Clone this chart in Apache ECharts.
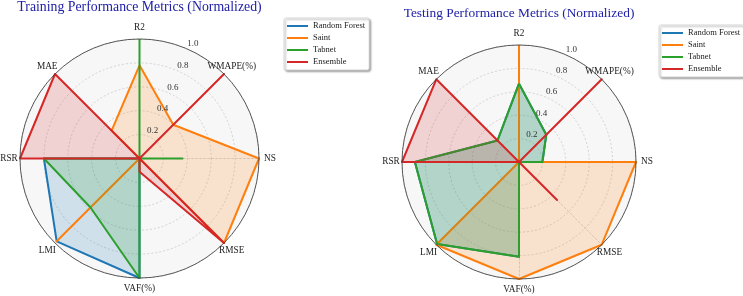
<!DOCTYPE html>
<html>
<head>
<meta charset="utf-8">
<script src="https://cdn.jsdelivr.net/npm/echarts@6/dist/echarts.min.js"></script>
<style>
  html, body { margin: 0; padding: 0; background: #fff; }
  #main { width: 743px; height: 296px; }
</style>
</head>
<body>
<div id="main"></div>
<script>
// metrics in clockwise order starting at the top
var metrics = ['R2', 'WMAPE(%)', 'NS', 'RMSE', 'VAF(%)', 'LMI', 'RSR', 'MAE'];
var models = ['Random Forest', 'Saint', 'Tabnet', 'Ensemble'];
var colors = ['#1f77b4', '#ff7f0e', '#2ca02c', '#d62728'];
var fills = ['rgba(31,119,180,0.25)', 'rgba(255,127,14,0.25)', 'rgba(44,160,44,0.25)', 'rgba(214,39,40,0.25)'];
var rTicks = [0.2, 0.4, 0.6, 0.8, 1.0];

// training (normalized)
var trainRF = [0, 0, 0, 0, 1.0, 0.98, 0.80, 0];
var trainSaint = [0.78, 0.40, 1.0, 1.0, 0, 0.98, 0, 0.33];
var trainTabnet = [1.0, 0, 0.36, 0, 1.0, 0.58, 0.80, 0];
var trainEnsemble = [0, 1.0, 0, 1.0, 0.11, 0, 1.0, 1.0];

// testing (normalized)
var testRF = [0.67, 0.33, 0.2, 0, 0.81, 0.99, 0.89, 0.26];
var testSaint = [1.0, 0, 1.0, 1.0, 1.0, 1.0, 0, 0];
var testTabnet = [0.67, 0.33, 0.2, 0, 0.81, 0.99, 0.89, 0.26];
var testEnsemble = [0, 1.0, 0, 0.46, 0, 0, 1.0, 1.0];

// echarts radar runs counter-clockwise, so reorder
var ccw = [0, 7, 6, 5, 4, 3, 2, 1];
function reorder(arr) {
    return ccw.map(function(i) { return arr[i]; });
}

var serif = '"Liberation Serif", "DejaVu Serif", serif';
var charts = [
    { title: 'Training Performance Metrics (Normalized)', center: [139.5, 158.5], r: 119.5, titleTop: 0, titleSize: 13.8, legendLeft: 284, legendTop: 18, data: [trainRF, trainSaint, trainTabnet, trainEnsemble] },
    { title: 'Testing Performance Metrics (Normalized)', center: [519, 162], r: 117, titleTop: 7, titleSize: 13.4, legendLeft: 659, legendTop: 25, data: [testRF, testSaint, testTabnet, testEnsemble] }
];

var option = { animation: false, title: [], legend: [], radar: [], polar: [], angleAxis: [], radiusAxis: [], series: [] };

charts.forEach(function(c, k) {
    option.title.push({
        text: c.title, left: c.center[0], top: c.titleTop, textAlign: 'center', padding: 0,
        textStyle: { fontFamily: serif, fontSize: c.titleSize, fontWeight: 'normal', color: '#2020a8' }
    });
    option.legend.push({
        orient: 'vertical', left: c.legendLeft, top: c.legendTop, data: models,
        icon: 'rect', itemWidth: 21, itemHeight: 2, itemGap: 0, padding: [2, 4, 2, 3],
        textStyle: { fontFamily: serif, fontSize: 8.5, color: '#222', lineHeight: 12 },
        backgroundColor: '#fff', borderColor: '#cccccc', borderWidth: 0.8, borderRadius: 2,
        shadowBlur: 2, shadowOffsetX: 1.5, shadowOffsetY: 1.5, shadowColor: 'rgba(0,0,0,0.35)'
    });
    option.radar.push({
        center: c.center, radius: c.r, startAngle: 90, shape: 'circle', splitNumber: 5, z: 1,
        indicator: reorder(metrics).map(function(m) { return { name: m, min: 0, max: 1 }; }),
        nameGap: 11,
        axisName: { color: '#222', fontFamily: serif, fontSize: 9.3, align: 'center', verticalAlign: 'middle' },
        splitLine: { lineStyle: { color: '#c8c8c8', type: [2, 2], width: 0.8 } },
        splitArea: { areaStyle: { color: ['#f7f7f7'] } },
        axisLine: { lineStyle: { color: '#c8c8c8', type: [2, 2], width: 0.8 } },
        axisLabel: { show: false }
    });
    // outer solid ring
    option.polar.push({ center: c.center, radius: c.r });
    option.angleAxis.push({
        polarIndex: 2 * k, type: 'value', min: 0, max: 360, z: 5,
        axisLine: { show: true, lineStyle: { color: '#333', width: 0.8 } },
        axisTick: { show: false }, axisLabel: { show: false }, splitLine: { show: false }
    });
    option.radiusAxis.push({ polarIndex: 2 * k, min: 0, max: 1, show: false });
    // radial tick labels, off the axes like matplotlib
    option.polar.push({ center: c.center, radius: c.r + 7 });
    option.angleAxis.push({ polarIndex: 2 * k + 1, type: 'value', min: 0, max: 360, startAngle: 65, show: false });
    option.radiusAxis.push({
        polarIndex: 2 * k + 1, min: -7 / c.r, max: 1, z: 6,
        axisLine: { show: false }, axisTick: { show: false }, splitLine: { show: false },
        axisLabel: {
            customValues: rTicks, margin: 0, align: 'center', verticalAlign: 'middle',
            fontFamily: serif, fontSize: 9, color: '#333',
            formatter: function(v) { return v.toFixed(1); }
        }
    });
    option.series.push({
        type: 'radar', radarIndex: k, symbol: 'none', z: 3,
        data: models.map(function(name, i) {
            return {
                name: name, value: reorder(c.data[i]),
                itemStyle: { color: colors[i] },
                lineStyle: { color: colors[i], width: 2 },
                areaStyle: { color: fills[i] }
            };
        })
    });
});

var chart = echarts.init(document.getElementById('main'));
chart.setOption(option);
</script>
</body>
</html>
